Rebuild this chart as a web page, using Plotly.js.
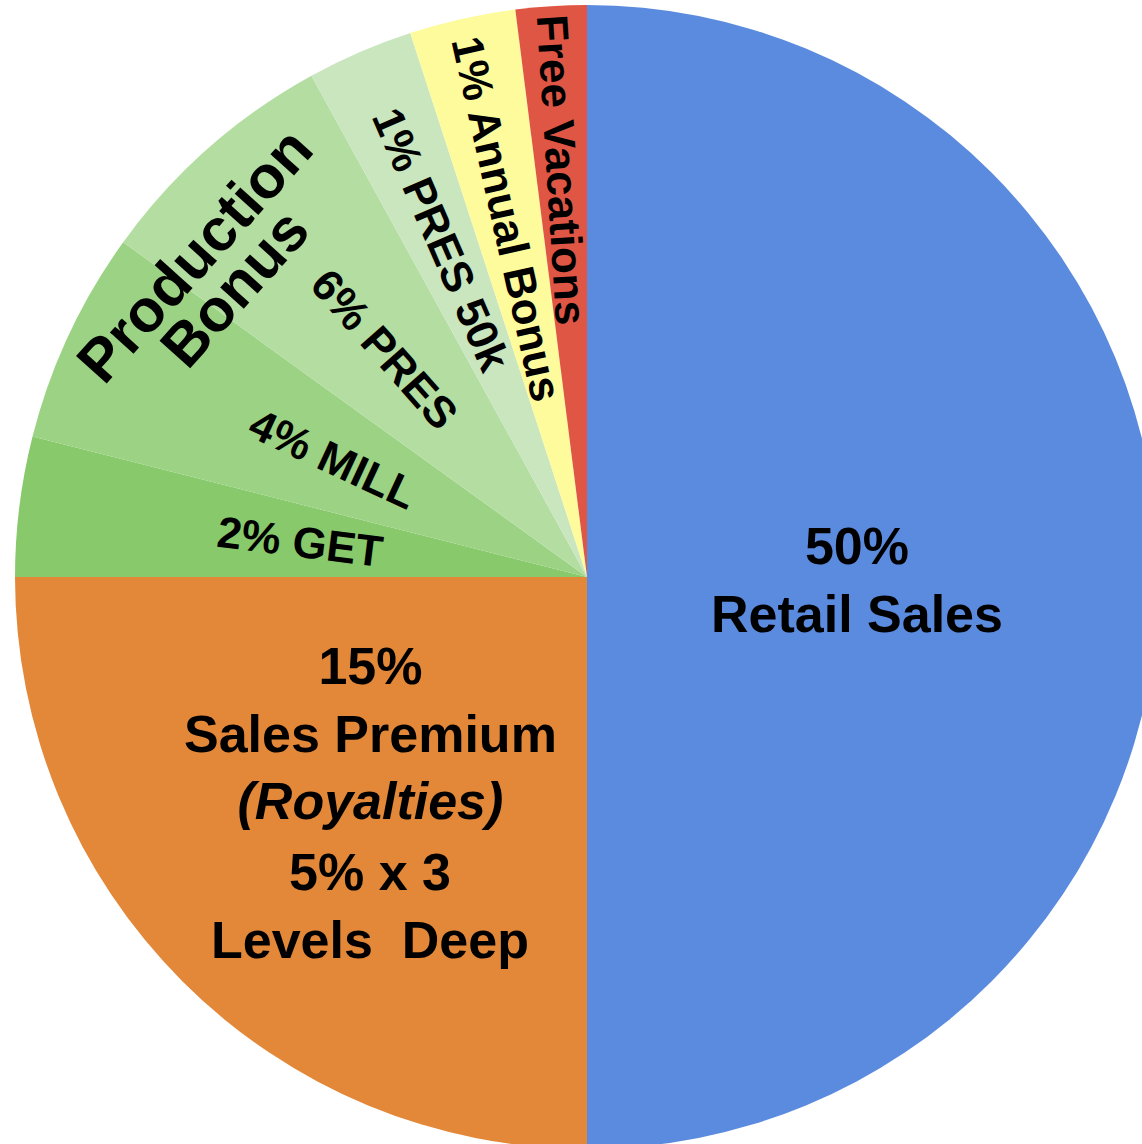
<!DOCTYPE html>
<html>
<head>
<meta charset="utf-8">
<script src="https://cdn.plot.ly/plotly-3.0.1.min.js"></script>
<style>
  html, body { margin: 0; padding: 0; width: 1142px; height: 1144px; overflow: hidden; background: #ffffff; }
  #chart { position: absolute; left: 15px; top: 5px; width: 1144px; height: 1144px; }
</style>
</head>
<body>
<div id="chart"></div>
<script>
// ---- data (clockwise from 12 o'clock) ----
const categories = ['Retail Sales', 'Sales Premium', 'GET', 'MILL', 'PRES', 'PRES 50k', 'Annual Bonus', 'Free Vacations'];
const shares = [50, 25, 3.95, 6, 7.05, 3, 3, 2];          // visual share of the pie
const sliceLabels = [
  '50%<br>Retail Sales',
  '15%<br>Sales Premium<br><i>(Royalties)</i>',
  '2% GET', '4% MILL', '6% PRES', '1% PRES 50k', '1% Annual Bonus', 'Free Vacations'
];
const subLabel = '5% x 3<br>Levels\u00a0 Deep';
const groupLabel = ['Production', 'Bonus'];

// ---- styles ----
const colors = ['#5B8BDF', '#E38738', '#88C96B', '#9BD283', '#B4DEA1', '#CAE6BF', '#FDFB9C', '#E05645'];
const FONT = 'Liberation Sans, Arial, Helvetica, sans-serif';
const radialFrac = [null, null, 0.505, 0.49, 0.532, 0.642, 0.642, 0.713];

const total = shares.reduce((a, b) => a + b, 0);
function polar(thetaDeg, rf) {
  const t = thetaDeg * Math.PI / 180;
  return { x: 0.5 + 0.5 * rf * Math.sin(t), y: 0.5 + 0.5 * rf * Math.cos(t) };
}
// screen pixel (within the 1144px square plot) -> paper
function px(x) { return (x - 15) / 1144; }
function py(y) { return 1 - (y - 5) / 1144; }

const annotations = [];
let cum = 0;
shares.forEach((v, i) => {
  const mid = 360 * (cum + v / 2) / total;
  cum += v;
  if (radialFrac[i] !== null) {
    const p = polar(mid, radialFrac[i]);
    annotations.push({
      x: p.x, y: p.y, xref: 'paper', yref: 'paper', xanchor: 'center', yanchor: 'middle',
      text: sliceLabels[i], showarrow: false, textangle: mid - 270,
      font: { family: FONT, size: 44, color: '#000', weight: 700 }
    });
  }
});
// main block labels
annotations.push({
  x: px(857), y: py(580), xref: 'paper', yref: 'paper', xanchor: 'center', yanchor: 'middle',
  text: sliceLabels[0], showarrow: false, font: { family: FONT, size: 52, color: '#000', weight: 700 }
});
annotations.push({
  x: px(370), y: py(733), xref: 'paper', yref: 'paper', xanchor: 'center', yanchor: 'middle',
  text: sliceLabels[1], showarrow: false, font: { family: FONT, size: 52, color: '#000', weight: 700 }
});
annotations.push({
  x: px(370), y: py(906), xref: 'paper', yref: 'paper', xanchor: 'center', yanchor: 'middle',
  text: subLabel, showarrow: false, font: { family: FONT, size: 52, color: '#000', weight: 700 }
});
// group label
annotations.push({
  x: px(194), y: py(255), xref: 'paper', yref: 'paper', xanchor: 'center', yanchor: 'middle',
  text: groupLabel[0], showarrow: false, textangle: -48, font: { family: FONT, size: 60, color: '#000', weight: 700 }
});
annotations.push({
  x: px(234), y: py(288), xref: 'paper', yref: 'paper', xanchor: 'center', yanchor: 'middle',
  text: groupLabel[1], showarrow: false, textangle: -48, font: { family: FONT, size: 60, color: '#000', weight: 700 }
});

const trace = {
  type: 'pie',
  labels: categories,
  values: shares,
  sort: false,
  direction: 'clockwise',
  rotation: 0,
  textinfo: 'none',
  hoverinfo: 'skip',
  marker: { colors: colors, line: { width: 0 } },
  domain: { x: [0, 1], y: [0, 1] }
};

const layout = {
  width: 1144, height: 1144,
  margin: { l: 0, r: 0, t: 0, b: 0, pad: 0 },
  showlegend: false,
  paper_bgcolor: 'rgba(0,0,0,0)',
  plot_bgcolor: 'rgba(0,0,0,0)',
  annotations: annotations
};

Plotly.newPlot('chart', [trace], layout, { displayModeBar: false, staticPlot: true });
</script>
</body>
</html>
